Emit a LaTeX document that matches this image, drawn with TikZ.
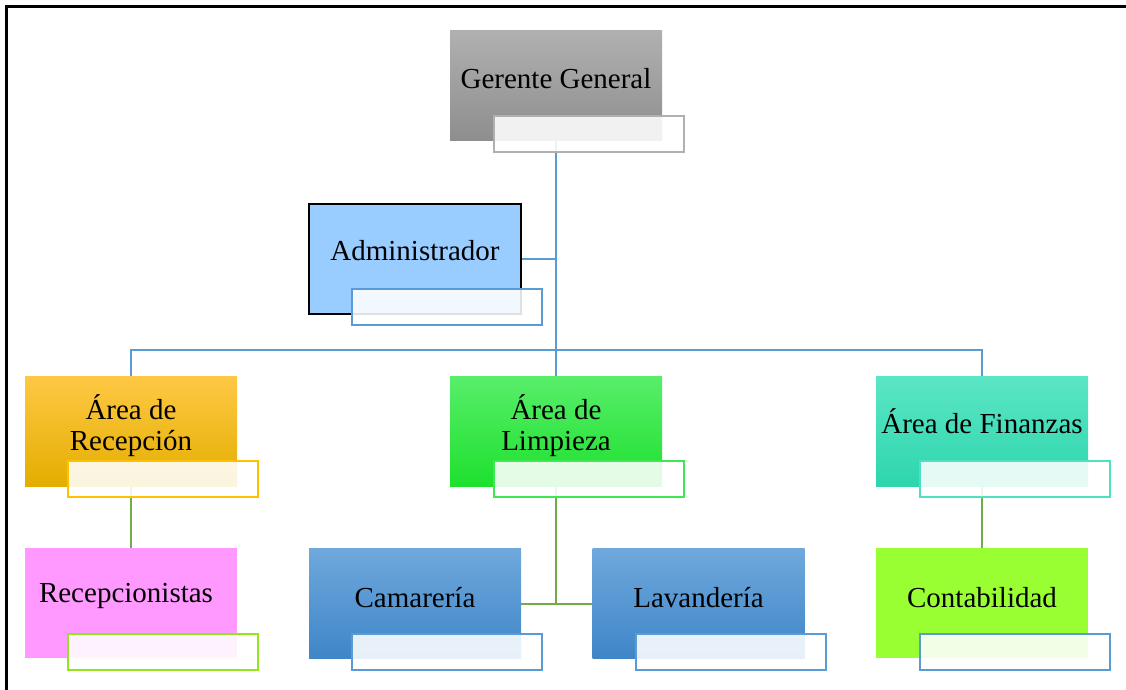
\documentclass[tikz,border=0pt]{standalone}
\usepackage{fontspec}
\setmainfont{Liberation Serif}
\usetikzlibrary{backgrounds}
\definecolor{lblue}{HTML}{5B9BD5}
\definecolor{lgreen}{HTML}{70AD47}
\definecolor{admfill}{HTML}{99CCFF}
\definecolor{pinkfill}{HTML}{FF99FF}
\definecolor{limefill}{HTML}{99FF33}
\definecolor{grayt}{HTML}{B0B0B0}
\definecolor{grayb}{HTML}{8E8E8E}
\definecolor{oranget}{HTML}{FFC845}
\definecolor{orangem}{HTML}{FFC600}
\definecolor{orangeb}{HTML}{E3AE00}
\definecolor{greent}{HTML}{58EE6A}
\definecolor{greenb}{HTML}{1EE02E}
\definecolor{tealt}{HTML}{5CE6C6}
\definecolor{tealb}{HTML}{2DD6AD}
\definecolor{bluet}{HTML}{6FA8DC}
\definecolor{blueb}{HTML}{3F86C8}
\definecolor{ovgray}{HTML}{B0B0B0}
\definecolor{ovorange}{HTML}{FFC000}
\definecolor{ovgreen}{HTML}{3EE84F}
\definecolor{ovteal}{HTML}{4EE0C0}
\definecolor{ovlime}{HTML}{92E41C}
\begin{document}
\begin{tikzpicture}[x=1pt,y=-1pt,
  box/.style={minimum width=212pt, minimum height=110pt, inner sep=0pt, outer sep=0pt},
  ovl/.style={minimum width=190pt, minimum height=36pt, inner sep=0pt, outer sep=0pt, fill=white, fill opacity=0.88, line width=2pt},
  txt/.style={font=\fontsize{29}{31}\selectfont, text=black, inner sep=0pt, align=center},
  bline/.style={draw=lblue, line width=2pt},
  gline/.style={draw=lgreen, line width=2pt}]
\useasboundingbox (0,0) rectangle (1126,690);
\draw[line width=2.5pt, black] (6.5,692) -- (6.5,6.5) -- (1128,6.5);

% level 0
\node[box, top color=grayt, bottom color=grayb] (gg) at (556,85.5) {};
\node[ovl, draw=ovgray] (gg-o) at (588.5,134) {};
\node[txt, anchor=base] (gg-t) at (556,89) {Gerente General};

% administrador
\node[box, fill=admfill, draw=black, line width=2pt] (adm) at (415,258.5) {};
\node[ovl, draw=lblue] (adm-o) at (446.5,307) {};
\node[txt, anchor=base] (adm-t) at (415,260) {Administrador};

% level 1
\node[box, top color=oranget, middle color=orangem, bottom color=orangeb] (rec) at (131,431) {};
\node[ovl, draw=ovorange] (rec-o) at (163,479) {};
\node[txt, anchor=base] (rec-t) at (131,450) {Área de\\Recepción};

\node[box, top color=greent, bottom color=greenb] (lim) at (556,431) {};
\node[ovl, draw=ovgreen] (lim-o) at (588.5,479) {};
\node[txt, anchor=base] (lim-t) at (556,450) {Área de\\Limpieza};

\node[box, top color=tealt, bottom color=tealb] (fin) at (982,431) {};
\node[ovl, draw=ovteal] (fin-o) at (1014.5,479) {};
\node[txt, anchor=base] (fin-t) at (982,433) {Área de Finanzas};

% level 2
\node[box, fill=pinkfill] (recp) at (130.5,603) {};
\node[ovl, draw=ovlime] (recp-o) at (162.5,652) {};
\node[txt, anchor=base] (recp-t) at (126,602) {Recepcionistas};

\node[box, top color=bluet, bottom color=blueb] (cam) at (415,603.5) {};
\node[ovl, draw=lblue] (cam-o) at (446.5,652) {};
\node[txt, anchor=base] (cam-t) at (415,607) {Camarería};

\node[box, top color=bluet, bottom color=blueb] (lav) at (698.5,603.5) {};
\node[ovl, draw=lblue] (lav-o) at (730.5,652) {};
\node[txt, anchor=base] (lav-t) at (698.5,607) {Lavandería};

\node[box, fill=limefill] (con) at (982,603) {};
\node[ovl, draw=lblue] (con-o) at (1014.5,652) {};
\node[txt, anchor=base] (con-t) at (982,607) {Contabilidad};

\coordinate (bus) at (556,350);
\begin{scope}[on background layer]
  \draw[bline] (gg.center) -- (lim.north);
  \draw[bline] (adm.east) -- (adm.east -| gg.center);
  \draw[bline] (rec.north) |- (bus) -| (fin.north);
  \draw[gline] (rec.south) -- (rec.south |- recp.north);
  \draw[gline] (lim.south) -- (lim.south |- cam.east);
  \draw[gline] (cam.east) -- (lav.west);
  \draw[gline] (fin.south) -- (fin.south |- con.north);
\end{scope}
\end{tikzpicture}
\end{document}
